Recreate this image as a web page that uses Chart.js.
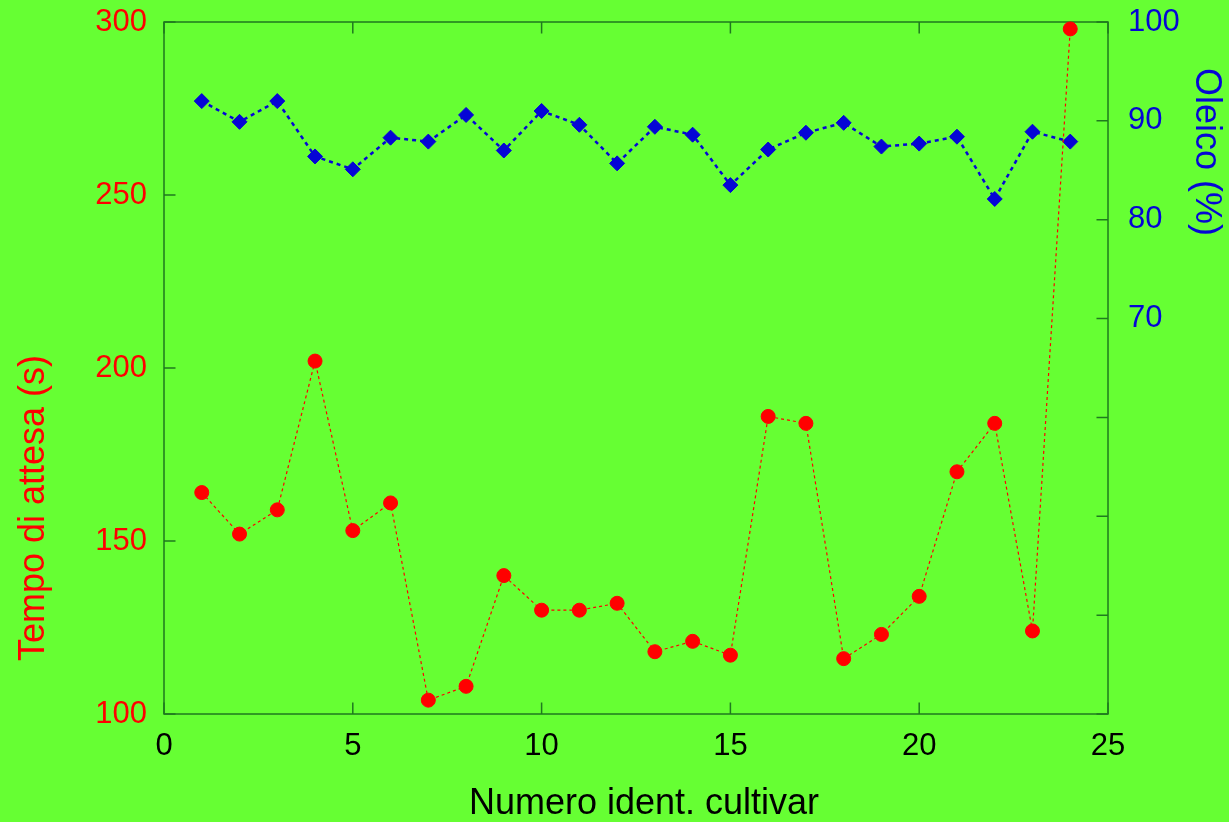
<!DOCTYPE html>
<html>
<head>
<meta charset="utf-8">
<script src="https://cdn.jsdelivr.net/npm/chart.js@4"></script>
<style>
  html, body { margin: 0; padding: 0; background: #66ff33; }
  #wrap { width: 1229px; height: 822px; position: relative; }
</style>
</head>
<body>
<div id="wrap"><canvas id="chart"></canvas></div>
<script>
// cultivar id numbers
const cultivar = [1, 2, 3, 4, 5, 6, 7, 8, 9, 10, 11, 12, 13, 14, 15, 16, 17, 18, 19, 20, 21, 22, 23, 24];
// waiting time, seconds (left axis)
const tempoAttesa = [164, 152, 159, 202, 153, 161, 104, 108, 140, 130, 130, 132, 118, 121, 117, 186, 184, 116, 123, 134, 170, 184, 124, 298];
// oleic acid, percent (right axis)
const oleico = [92.0, 89.9, 92.0, 86.4, 85.1, 88.3, 87.9, 90.6, 87.0, 91.0, 89.6, 85.7, 89.4, 88.6, 83.5, 87.1, 88.8, 89.8, 87.4, 87.7, 88.4, 82.1, 88.9, 87.9];

const xTicks = [0, 5, 10, 15, 20, 25];
const tempoTicks = [100, 150, 200, 250, 300];
const oleicoTicks = [30, 40, 50, 60, 70, 80, 90, 100];
const oleicoLabelled = [70, 80, 90, 100];

const titles = {
  x: 'Numero ident. cultivar',
  y: 'Tempo di attesa (s)',
  y2: 'Oleico (%)'
};

const RED = '#ff0000';
const BLUE = '#0505d6';
const FRAME = '#1f7a1f';
const FONT = "'Liberation Sans', Arial, sans-serif";

// fixed axis sizes, no extra room for overhanging end labels
function fixSize(size) {
  return s => {
    if (s.isHorizontal()) { s.height = size; } else { s.width = size; }
    s.paddingTop = s.paddingBottom = s.paddingLeft = s.paddingRight = 0;
  };
}

// box around the plot with short ticks pointing inwards on every side
const frame = {
  id: 'frame',
  beforeDatasetsDraw(chart) {
    const { ctx, chartArea: a, scales } = chart;
    const len = 11.5;
    ctx.save();
    ctx.strokeStyle = FRAME;
    ctx.lineWidth = 1.5;
    ctx.strokeRect(a.left, a.top, a.right - a.left, a.bottom - a.top);
    ctx.beginPath();
    scales.x.ticks.forEach(t => {
      const px = scales.x.getPixelForValue(t.value);
      ctx.moveTo(px, a.bottom); ctx.lineTo(px, a.bottom - len);
      ctx.moveTo(px, a.top); ctx.lineTo(px, a.top + len);
    });
    scales.y.ticks.forEach(t => {
      const py = scales.y.getPixelForValue(t.value);
      ctx.moveTo(a.left, py); ctx.lineTo(a.left + len, py);
    });
    scales.y2.ticks.forEach(t => {
      const py = scales.y2.getPixelForValue(t.value);
      ctx.moveTo(a.right, py); ctx.lineTo(a.right - len, py);
    });
    ctx.stroke();
    ctx.restore();
  }
};

// axis titles
const axisTitles = {
  id: 'axisTitles',
  afterDraw(chart) {
    const { ctx, chartArea: a } = chart;
    ctx.save();
    ctx.font = '36px ' + FONT;
    ctx.textAlign = 'center';
    ctx.textBaseline = 'alphabetic';

    ctx.fillStyle = '#000000';
    ctx.fillText(titles.x, (a.left + a.right) / 2 + 8, a.bottom + 100);

    ctx.save();
    ctx.translate(a.left - 120, a.bottom - 206);
    ctx.rotate(-Math.PI / 2);
    ctx.fillStyle = RED;
    ctx.fillText(titles.y, 0, 0);
    ctx.restore();

    ctx.save();
    ctx.translate(a.right + 88, a.top + 130);
    ctx.rotate(Math.PI / 2);
    ctx.fillStyle = BLUE;
    ctx.fillText(titles.y2, 0, 0);
    ctx.restore();

    ctx.restore();
  }
};

const tickFont = { family: FONT, size: 31 };

new Chart(document.getElementById('chart'), {
  type: 'line',
  data: {
    datasets: [
      {
        label: titles.y,
        data: cultivar.map((c, i) => ({ x: c, y: tempoAttesa[i] })),
        yAxisID: 'y',
        borderColor: RED,
        borderWidth: 1.2,
        borderDash: [3, 3],
        pointStyle: 'circle',
        pointRadius: 7,
        pointBorderWidth: 1,
        pointBackgroundColor: RED,
        pointBorderColor: RED,
        tension: 0,
        clip: false
      },
      {
        label: titles.y2,
        data: cultivar.map((c, i) => ({ x: c, y: oleico[i] })),
        yAxisID: 'y2',
        borderColor: BLUE,
        borderWidth: 2.5,
        borderDash: [4, 4],
        pointStyle: 'rectRot',
        pointRadius: 7.5,
        pointBorderWidth: 1,
        pointBackgroundColor: BLUE,
        pointBorderColor: BLUE,
        tension: 0,
        clip: false
      }
    ]
  },
  options: {
    responsive: true,
    maintainAspectRatio: false,
    animation: false,
    layout: { padding: { top: 22 } },
    plugins: {
      legend: { display: false },
      tooltip: { enabled: false }
    },
    scales: {
      x: {
        type: 'linear',
        position: 'bottom',
        min: xTicks[0],
        max: xTicks[xTicks.length - 1],
        afterBuildTicks: s => { s.ticks = xTicks.map(v => ({ value: v })); },
        afterFit: fixSize(108),
        ticks: { color: '#000000', font: tickFont, padding: 14, maxRotation: 0, autoSkip: false },
        grid: { display: false, drawTicks: false },
        border: { display: false }
      },
      y: {
        type: 'linear',
        position: 'left',
        min: tempoTicks[0],
        max: tempoTicks[tempoTicks.length - 1],
        afterBuildTicks: s => { s.ticks = tempoTicks.map(v => ({ value: v })); },
        afterFit: fixSize(164),
        ticks: { color: RED, font: tickFont, padding: 17, autoSkip: false },
        grid: { display: false, drawTicks: false },
        border: { display: false }
      },
      y2: {
        type: 'linear',
        position: 'right',
        min: oleicoTicks[0],
        max: oleicoTicks[oleicoTicks.length - 1],
        afterBuildTicks: s => { s.ticks = oleicoTicks.map(v => ({ value: v })); },
        afterFit: fixSize(121),
        ticks: {
          color: BLUE,
          font: tickFont,
          padding: 20,
          autoSkip: false,
          callback: v => oleicoLabelled.includes(v) ? String(v) : ''
        },
        grid: { display: false, drawTicks: false },
        border: { display: false }
      }
    }
  },
  plugins: [frame, axisTitles]
});
</script>
</body>
</html>
